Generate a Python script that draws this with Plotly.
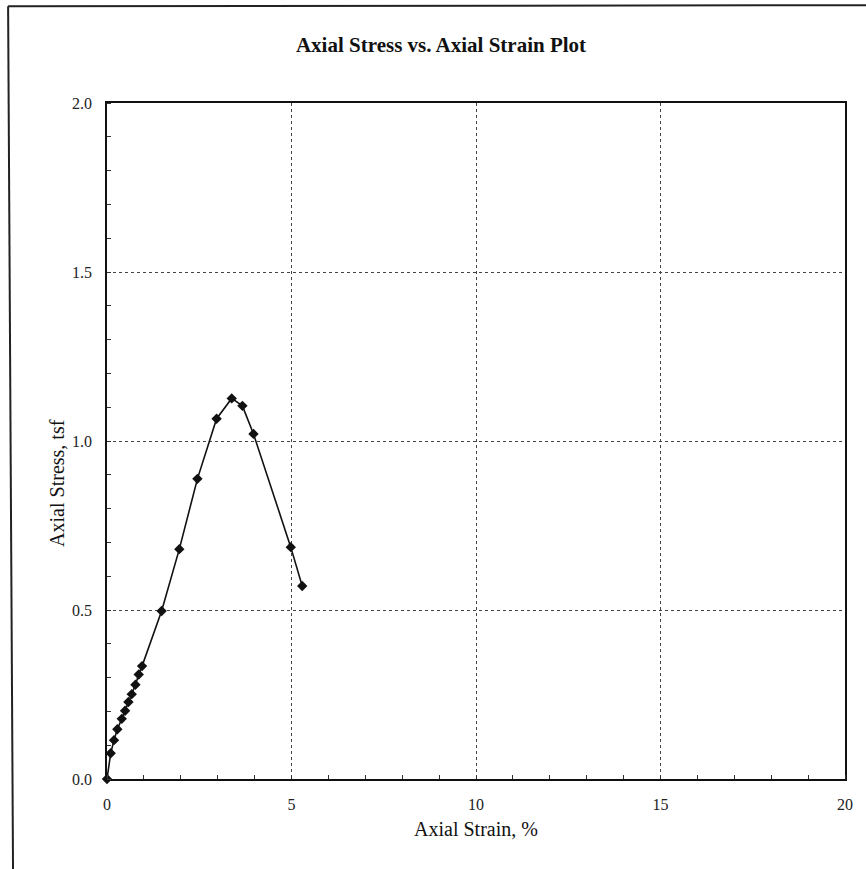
import plotly.graph_objects as go

# Data
axial_strain_pct = [0.0, 0.10, 0.19, 0.28, 0.40, 0.49, 0.58, 0.67, 0.77, 0.86, 0.95,
                    1.48, 1.96, 2.45, 2.97, 3.38, 3.67, 3.97, 4.98, 5.29]
axial_stress_tsf = [0.0, 0.076, 0.115, 0.147, 0.178, 0.202, 0.228, 0.251, 0.279, 0.309, 0.334,
                    0.497, 0.680, 0.888, 1.066, 1.126, 1.104, 1.021, 0.686, 0.571]

x_ticks = [0, 5, 10, 15, 20]
y_ticks = [0.0, 0.5, 1.0, 1.5, 2.0]

font_family = "Liberation Serif, Times New Roman, serif"

fig = go.Figure()
fig.add_trace(go.Scatter(
    x=axial_strain_pct, y=axial_stress_tsf,
    mode="lines+markers",
    line=dict(color="#111111", width=1.6),
    marker=dict(symbol="diamond", size=8, color="#111111"),
    cliponaxis=False,
    showlegend=False,
))

axis_common = dict(
    showline=True, linecolor="#111111", linewidth=1.8, mirror=True,
    showgrid=True, gridcolor="#444444", griddash="dot", gridwidth=1.2,
    zeroline=False,
    ticks="", tickfont=dict(family=font_family, size=16, color="#222222"),
)

fig.update_xaxes(
    range=[0, 20], tickvals=x_ticks, ticktext=[str(v) for v in x_ticks],
    minor=dict(dtick=1, ticks="inside", ticklen=4, tickcolor="#333333", showgrid=False),
    title=dict(text="Axial Strain, %", font=dict(family=font_family, size=20, color="#111111"),
               standoff=10),
    ticklabelstandoff=10,
    **axis_common,
)
fig.update_yaxes(
    range=[0, 2.0], tickvals=y_ticks, ticktext=[f"{v:.1f}" for v in y_ticks],
    minor=dict(dtick=0.1, ticks="inside", ticklen=4, tickcolor="#333333", showgrid=False),
    ticklabelstandoff=10,
    **axis_common,
)

# Y-axis title (placed slightly below centre as in the reference)
fig.add_annotation(
    text="Axial Stress, tsf", xref="paper", yref="paper",
    x=-0.0678, y=0.438, xanchor="center", yanchor="middle",
    textangle=-90, showarrow=False,
    font=dict(family=font_family, size=20, color="#111111"),
)

# Outer frame of the page (top and left edges)
frame = dict(type="line", xref="paper", yref="paper", line=dict(color="#222222", width=2))
fig.add_shape(x0=-0.134, x1=1.2, y0=1.143, y1=1.145, **frame)
fig.add_shape(x0=-0.134, x1=-0.127, y0=1.143, y1=-0.2, **frame)

fig.update_layout(
    width=866, height=869,
    margin=dict(l=107, r=21, t=103, b=90),
    paper_bgcolor="white", plot_bgcolor="white",
    title=dict(text="<b>Axial Stress vs. Axial Strain Plot</b>",
               font=dict(family=font_family, size=21, color="#111111"),
               x=441 / 866, xanchor="center", y=1 - 45 / 869, yanchor="middle"),
)

fig.write_html("out.html", config={"displayModeBar": False},
               post_script="document.body.style.margin='0px';")
